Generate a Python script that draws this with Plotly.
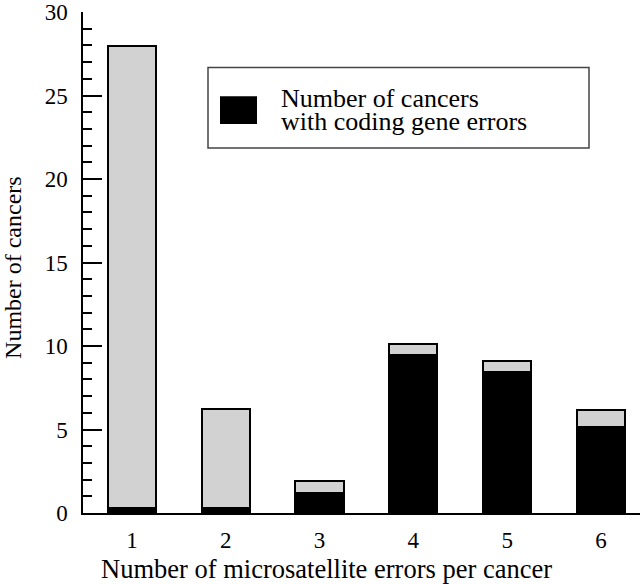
import plotly.graph_objects as go

categories = [1, 2, 3, 4, 5, 6]
coding_errors = [0.28, 0.28, 1.17, 9.49, 8.42, 5.17]
total_cancers = [27.95, 6.25, 1.9, 10.1, 9.1, 6.15]
y_ticks = [0, 5, 10, 15, 20, 25, 30]

rest = [t - c for t, c in zip(total_cancers, coding_errors)]

W, H = 640, 584
L, R, T, B = 83, 0, 8, 71
pw, ph = W - L - R, H - T - B

def px(x):
    return (x - L) / pw

def py(y):
    return (H - B - y) / ph

FONT = "Liberation Serif"

fig = go.Figure()
fig.add_trace(go.Bar(x=categories, y=coding_errors, marker=dict(color="black", line=dict(color="black", width=2)),
                     width=0.514, showlegend=False))
fig.add_trace(go.Bar(x=categories, y=rest, marker=dict(color="#d2d2d2", line=dict(color="black", width=2)),
                     width=0.514, showlegend=False))

fig.update_layout(
    barmode="stack",
    width=W, height=H,
    margin=dict(l=L, r=R, t=T, b=B, pad=0),
    plot_bgcolor="white", paper_bgcolor="white",
    font=dict(family=FONT, color="black", size=22),
    xaxis=dict(range=[0.478, 6.416], showline=True, linecolor="black", linewidth=1.5,
               ticks="", tickvals=categories, ticktext=[str(c) for c in categories],
               showgrid=False, zeroline=False, tickfont=dict(size=23), ticklabelstandoff=6),
    yaxis=dict(range=[0, 30], showline=True, linecolor="black", linewidth=1.5,
               tickvals=y_ticks, ticks="inside", ticklen=19, tickwidth=1.5, tickcolor="black",
               minor=dict(dtick=1, ticks="inside", ticklen=9.5, tickwidth=1.5, tickcolor="black", showgrid=False),
               showgrid=False, zeroline=False, tickfont=dict(size=23), ticklabelstandoff=9,
               ticklabeloverflow="allow"),
    shapes=[
        dict(type="rect", xref="paper", yref="paper", x0=px(208), x1=px(589), y0=py(145), y1=py(64),
             line=dict(color="#444444", width=1.5), fillcolor="white"),
        dict(type="rect", xref="paper", yref="paper", x0=px(220), x1=px(257), y0=py(121), y1=py(93),
             line=dict(width=0), fillcolor="black"),
    ],
    annotations=[
        dict(text="Number of microsatellite errors per cancer", xref="paper", yref="paper",
             x=px(326), y=py(569), xanchor="center", yanchor="middle", showarrow=False, font=dict(size=26.5)),
        dict(text="Number of cancers", xref="paper", yref="paper", textangle=-90,
             x=px(13), y=py(266), xanchor="center", yanchor="middle", showarrow=False, font=dict(size=24)),
        dict(text="Number of cancers", xref="paper", yref="paper",
             x=px(279), y=py(95), xanchor="left", yanchor="middle", showarrow=False, font=dict(size=26)),
        dict(text="with coding gene errors", xref="paper", yref="paper",
             x=px(279), y=py(118), xanchor="left", yanchor="middle", showarrow=False, font=dict(size=26)),
    ],
)

fig.write_html("out.html", config={"displayModeBar": False},
               post_script="document.body.style.margin='0';document.body.style.overflow='hidden';")
